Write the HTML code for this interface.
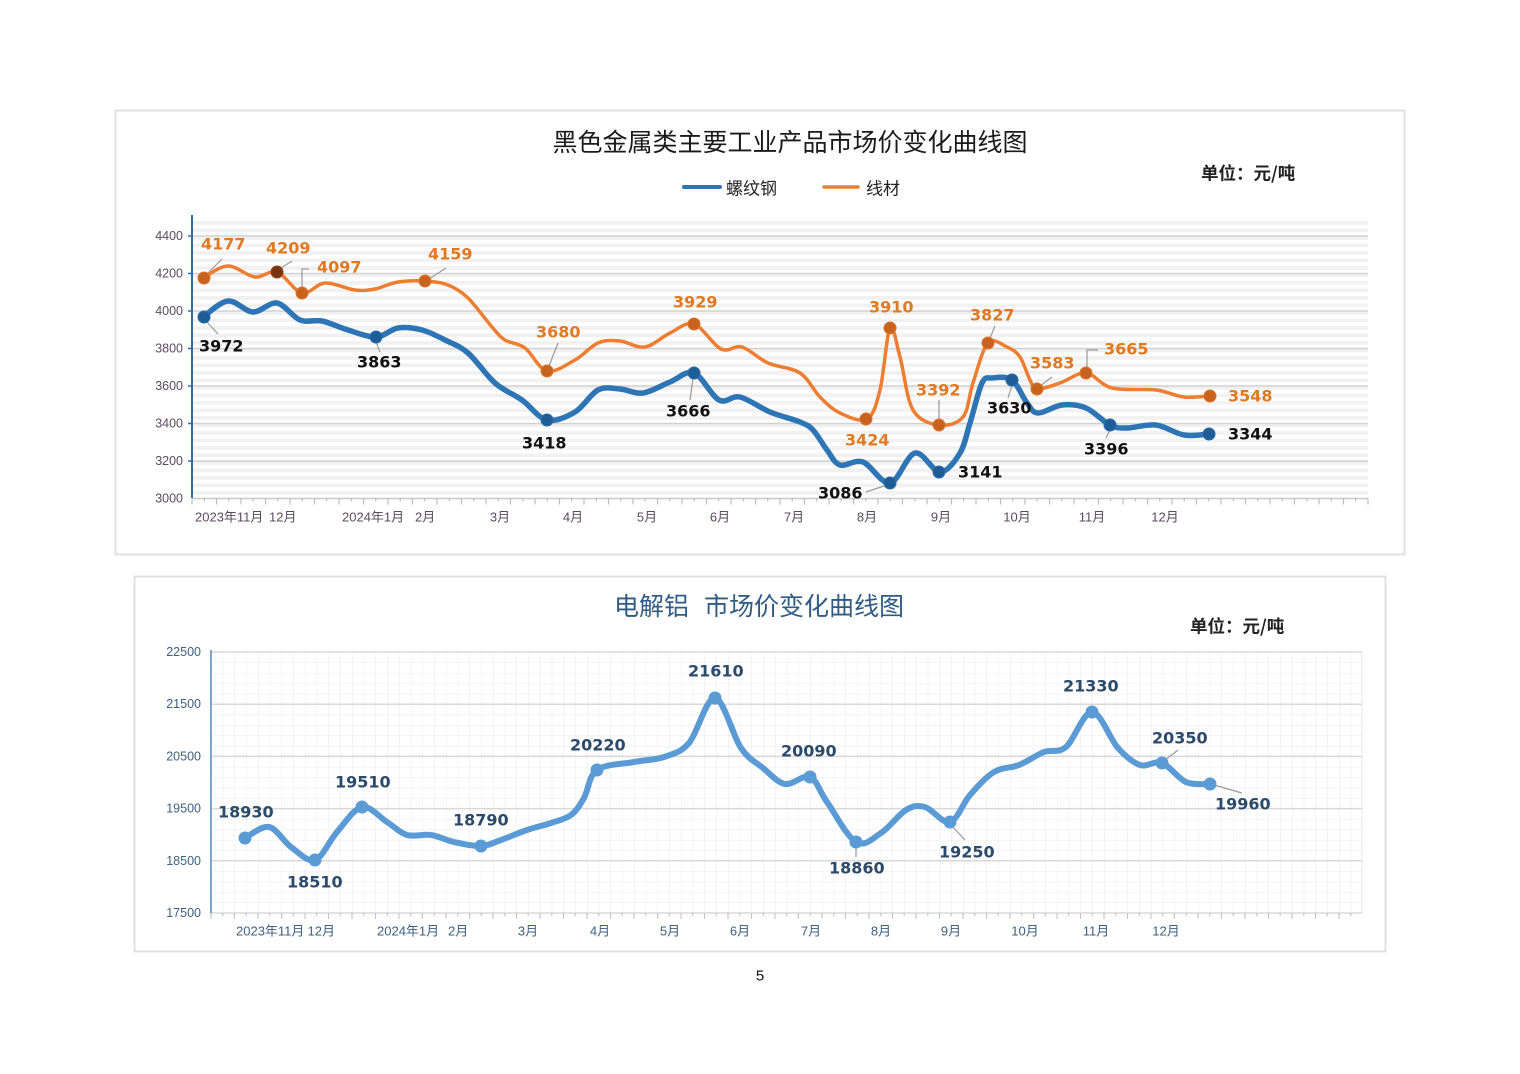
<!DOCTYPE html>
<html><head><meta charset="utf-8"><style>
html,body{margin:0;padding:0;background:#fff;}
svg{display:block;}
text{font-family:"Liberation Sans","Noto Sans CJK SC",sans-serif;}
text.cj{font-family:"Noto Sans CJK SC","WenQuanYi Zen Hei",sans-serif;}
.lb text{font-family:"DejaVu Sans","Liberation Sans",sans-serif;font-weight:bold;font-size:16px;}
</style></head><body>
<svg width="1520" height="1074" viewBox="0 0 1520 1074" xmlns="http://www.w3.org/2000/svg">
<defs>
<pattern id="ts" x="192" y="498.5" width="20" height="7.5" patternUnits="userSpaceOnUse">
<rect x="0" y="0" width="20" height="3.75" fill="#f1f1f1"/>
</pattern>
<pattern id="bg" x="211" y="913" width="11.75" height="10.44" patternUnits="userSpaceOnUse">
<line x1="0" y1="0" x2="11.75" y2="0" stroke="#e8e8e8" stroke-width="1"/>
<line x1="0" y1="0" x2="0" y2="10.44" stroke="#e8e8e8" stroke-width="1"/>
</pattern>
</defs>

<!-- ============ TOP CHART ============ -->
<rect x="115.5" y="110.5" width="1289" height="444" fill="#fff" stroke="#e0e0e0" stroke-width="2"/>
<text class="cj" x="790" y="141" font-size="25" fill="#1a1a1a" text-anchor="middle" dominant-baseline="central">黑色金属类主要工业产品市场价变化曲线图</text>
<line x1="684" y1="187" x2="720" y2="187" stroke="#2e75b6" stroke-width="4" stroke-linecap="round"/>
<text class="cj" x="726" y="187" font-size="17" fill="#222" dominant-baseline="central">螺纹钢</text>
<line x1="824" y1="187" x2="858" y2="187" stroke="#ed7d31" stroke-width="3.5" stroke-linecap="round"/>
<text class="cj" x="866" y="187" font-size="17" fill="#222" dominant-baseline="central">线材</text>
<text class="cj" x="1201" y="173" font-size="17.5" font-weight="bold" fill="#222" dominant-baseline="central">单位：元/吨</text>

<rect x="192" y="218" width="1176" height="281" fill="url(#ts)"/>
<g stroke="#d2d2d2" stroke-width="1.5">
<line x1="192" y1="236" x2="1368" y2="236"/>
<line x1="192" y1="273.5" x2="1368" y2="273.5"/>
<line x1="192" y1="311" x2="1368" y2="311"/>
<line x1="192" y1="348.5" x2="1368" y2="348.5"/>
<line x1="192" y1="386" x2="1368" y2="386"/>
<line x1="192" y1="423.5" x2="1368" y2="423.5"/>
<line x1="192" y1="461" x2="1368" y2="461"/>
</g>
<line x1="192" y1="498.5" x2="1368" y2="498.5" stroke="#c8c8c8" stroke-width="1.5"/>
<g id="tticks" stroke="#bdbdbd" stroke-width="1.2"></g>
<line x1="192" y1="215" x2="192" y2="498" stroke="#2e6da4" stroke-width="2"/>
<g stroke="#2e6da4" stroke-width="1.5">
<line x1="188" y1="236" x2="192" y2="236"/><line x1="188" y1="273.5" x2="192" y2="273.5"/>
<line x1="188" y1="311" x2="192" y2="311"/><line x1="188" y1="348.5" x2="192" y2="348.5"/>
<line x1="188" y1="386" x2="192" y2="386"/><line x1="188" y1="423.5" x2="192" y2="423.5"/>
<line x1="188" y1="461" x2="192" y2="461"/>
</g>
<g font-size="12.5" fill="#5b4a5e" text-anchor="end" dominant-baseline="central">
<text x="183" y="236">4400</text><text x="183" y="273.5">4200</text><text x="183" y="311">4000</text>
<text x="183" y="348.5">3800</text><text x="183" y="386">3600</text><text x="183" y="423.5">3400</text>
<text x="183" y="461">3200</text><text x="183" y="498.5">3000</text>
</g>
<g font-size="13" fill="#5b4a5e" dominant-baseline="central">
<text x="195" y="517">2023年11月</text><text x="269" y="517">12月</text>
<text x="342" y="517">2024年1月</text><text x="415" y="517">2月</text>
</g>
<g font-size="13" fill="#5b4a5e" text-anchor="middle" dominant-baseline="central">
<text x="500" y="517">3月</text><text x="573" y="517">4月</text><text x="647" y="517">5月</text>
<text x="720" y="517">6月</text><text x="794" y="517">7月</text><text x="867" y="517">8月</text>
<text x="941" y="517">9月</text><text x="1017" y="517">10月</text><text x="1092" y="517">11月</text>
<text x="1165" y="517">12月</text>
</g>

<!-- leaders top -->
<g stroke="#9a9a9a" stroke-width="1.2" fill="none">
<line x1="207" y1="274" x2="222" y2="259"/>
<line x1="281" y1="268" x2="292" y2="261"/>
<path d="M302 288 V269 H309"/>
<line x1="429" y1="279" x2="446" y2="268"/>
<line x1="549" y1="366" x2="558" y2="343"/>
<line x1="939" y1="420" x2="939" y2="400"/>
<line x1="990" y1="338" x2="995" y2="326"/>
<line x1="1040" y1="386" x2="1052" y2="377"/>
<path d="M1087 370 V350 H1098"/>
<line x1="207" y1="322" x2="218" y2="334"/>
<line x1="376" y1="342" x2="380" y2="352"/>
<line x1="693" y1="378" x2="690" y2="400"/>
<line x1="866" y1="492" x2="884" y2="486"/>
<line x1="1012" y1="385" x2="1008" y2="398"/>
<line x1="1110" y1="430" x2="1106" y2="438"/>
</g>

<polyline class="sm" points="203,278 228,266 255,277 277,272 302,293 325,283 355,290 375,289 398,282 425,281 448,285 468,298 492,327 505,340 525,348 547,371 575,360 598,343 620,341 645,347 670,333 694,324 721,349 742,347 768,363 800,373 820,397 840,413 867,419 880,390 890,328 900,357 913,410 939,425 963,417 973,383 988,343 1007,347 1020,357 1030,380 1037,389 1060,383 1086,373 1112,388 1156,390 1184,397 1210,396" fill="none" stroke="#ed7d31" stroke-width="3.5" stroke-linejoin="round" stroke-linecap="round"/>
<polyline class="sm" points="203,317 228,301 253,312 277,303 300,320 322,321 348,330 376,337 398,328 422,330 445,340 468,353 495,383 522,400 547,420 575,412 598,390 620,389 643,393 670,382 694,373 719,400 740,397 770,412 800,422 813,430 827,450 840,465 863,462 890,483 915,453 940,472 960,453 970,423 982,383 992,378 1012,380 1027,403 1038,413 1062,405 1086,408 1110,425 1127,428 1156,425 1184,435 1210,434" fill="none" stroke="#2e75b6" stroke-width="5.5" stroke-linejoin="round" stroke-linecap="round"/>

<g fill="#c9621c" stroke="#d9772e" stroke-width="1">
<circle cx="204" cy="278" r="6"/><circle cx="302" cy="293" r="6"/><circle cx="425" cy="281" r="6"/>
<circle cx="547" cy="371" r="6"/><circle cx="694" cy="324" r="6"/><circle cx="890" cy="328" r="6"/>
<circle cx="866" cy="419" r="6"/><circle cx="939" cy="425" r="6"/><circle cx="988" cy="343" r="6"/>
<circle cx="1037" cy="389" r="6"/><circle cx="1086" cy="373" r="6"/><circle cx="1210" cy="396" r="6"/>
</g>
<circle cx="277" cy="272" r="6" fill="#7a3510" stroke="#8e4517"/>
<g fill="#1f5d96" stroke="#2a6aa8" stroke-width="1">
<circle cx="204" cy="317" r="6"/><circle cx="376" cy="337" r="6"/><circle cx="547" cy="420" r="6"/>
<circle cx="694" cy="373" r="6"/><circle cx="890" cy="483" r="6"/><circle cx="939" cy="472" r="6"/>
<circle cx="1012" cy="380" r="6"/><circle cx="1110" cy="425" r="6"/><circle cx="1209" cy="434" r="6"/>
</g>

<g class="lb" fill="#e07a22" dominant-baseline="central">
<text x="201" y="244">4177</text><text x="266" y="248">4209</text><text x="317" y="267">4097</text>
<text x="428" y="254">4159</text><text x="536" y="332">3680</text><text x="673" y="302">3929</text>
<text x="869" y="307">3910</text><text x="845" y="440">3424</text><text x="916" y="390">3392</text>
<text x="970" y="315">3827</text><text x="1030" y="363">3583</text><text x="1104" y="349">3665</text>
<text x="1228" y="396">3548</text>
</g>
<g class="lb" fill="#111" dominant-baseline="central">
<text x="199" y="346">3972</text><text x="357" y="362">3863</text><text x="522" y="443">3418</text>
<text x="666" y="411">3666</text><text x="818" y="493">3086</text><text x="958" y="472">3141</text>
<text x="987" y="408">3630</text><text x="1084" y="449">3396</text><text x="1228" y="434">3344</text>
</g>

<!-- ============ BOTTOM CHART ============ -->
<rect x="134.5" y="576.5" width="1251" height="375" fill="#fff" stroke="#e0e0e0" stroke-width="2"/>
<text class="cj" x="614" y="605" font-size="25" fill="#2f5b85" dominant-baseline="central">电解铝</text>
<text class="cj" x="704" y="605" font-size="25" fill="#2f5b85" dominant-baseline="central">市场价变化曲线图</text>
<text class="cj" x="1190" y="626" font-size="17.5" font-weight="bold" fill="#222" dominant-baseline="central">单位：元/吨</text>

<rect x="211" y="652" width="1151" height="261" fill="url(#bg)"/>
<line x1="1362" y1="652" x2="1362" y2="913" stroke="#e4e4e4" stroke-width="1"/>
<g stroke="#d8d8d8" stroke-width="1.5">
<line x1="211" y1="652" x2="1362" y2="652"/>
<line x1="211" y1="704.2" x2="1362" y2="704.2"/>
<line x1="211" y1="756.4" x2="1362" y2="756.4"/>
<line x1="211" y1="808.6" x2="1362" y2="808.6"/>
<line x1="211" y1="860.8" x2="1362" y2="860.8"/>
<line x1="211" y1="913" x2="1362" y2="913"/>
</g>
<g id="bticks" stroke="#c4c4c4" stroke-width="1.2"></g>
<line x1="211" y1="650" x2="211" y2="913" stroke="#7aa6cf" stroke-width="2"/>
<g font-size="12.5" fill="#3d5f80" text-anchor="end" dominant-baseline="central">
<text x="201" y="652">22500</text><text x="201" y="704.2">21500</text><text x="201" y="756.4">20500</text>
<text x="201" y="808.6">19500</text><text x="201" y="860.8">18500</text><text x="201" y="913">17500</text>
</g>
<g font-size="13" fill="#3d5f80" dominant-baseline="central">
<text x="236" y="931">2023年11月</text><text x="335" y="931" text-anchor="end">12月</text>
<text x="377" y="931">2024年1月</text><text x="448" y="931">2月</text>
</g>
<g font-size="13" fill="#3d5f80" text-anchor="middle" dominant-baseline="central">
<text x="528" y="931">3月</text><text x="600" y="931">4月</text><text x="670" y="931">5月</text>
<text x="740" y="931">6月</text><text x="811" y="931">7月</text><text x="881" y="931">8月</text>
<text x="951" y="931">9月</text><text x="1025" y="931">10月</text><text x="1096" y="931">11月</text>
<text x="1166" y="931">12月</text>
</g>

<g stroke="#9a9a9a" stroke-width="1.2" fill="none">
<line x1="856" y1="846" x2="856" y2="857"/>
<line x1="952" y1="826" x2="965" y2="840"/>
<line x1="1165" y1="760" x2="1178" y2="750"/>
<line x1="1214" y1="785" x2="1242" y2="793"/>
</g>

<polyline class="sm" points="245,838 269,827 291,847 315,860 337,832 362,807 387,822 407,835 431,835 454,842 481,846 501,840 527,830 551,823 571,815 584,798 597,770 634,762 664,757 689,743 715,698 741,748 763,768 785,784 810,777 827,802 856,842 881,833 906,810 925,807 950,822 970,795 994,772 1019,765 1044,752 1066,747 1092,712 1118,748 1140,765 1162,763 1186,782 1210,784" fill="none" stroke="#5b9bd5" stroke-width="6" stroke-linejoin="round" stroke-linecap="round"/>
<g fill="#5b9bd5">
<circle cx="245" cy="838" r="6.5"/><circle cx="315" cy="860" r="6.5"/><circle cx="362" cy="807" r="6.5"/>
<circle cx="481" cy="846" r="6.5"/><circle cx="597" cy="770" r="6.5"/><circle cx="715" cy="698" r="6.5"/>
<circle cx="810" cy="777" r="6.5"/><circle cx="856" cy="842" r="6.5"/><circle cx="950" cy="822" r="6.5"/>
<circle cx="1092" cy="712" r="6.5"/><circle cx="1162" cy="763" r="6.5"/><circle cx="1210" cy="784" r="6.5"/>
</g>
<g class="lb" fill="#2c4a6a" dominant-baseline="central">
<text x="218" y="812">18930</text><text x="287" y="882">18510</text><text x="335" y="782">19510</text>
<text x="453" y="820">18790</text><text x="570" y="745">20220</text><text x="688" y="671">21610</text>
<text x="781" y="751">20090</text><text x="829" y="868">18860</text><text x="939" y="852">19250</text>
<text x="1063" y="686">21330</text><text x="1152" y="738">20350</text><text x="1215" y="804">19960</text>
</g>

<text x="760" y="976" font-size="15" fill="#111" text-anchor="middle" dominant-baseline="central">5</text>
</svg>
<script>
(function(){
var NS="http://www.w3.org/2000/svg";
function ticks(id,x0,x1,step,y,h1,h2){
  var g=document.getElementById(id),i=0;
  for(var x=x0;x<=x1+0.1;x+=step){
    var l=document.createElementNS(NS,"line");
    l.setAttribute("x1",x);l.setAttribute("x2",x);
    l.setAttribute("y1",y);l.setAttribute("y2",y+(i%2?h2:h1));
    g.appendChild(l);i++;
  }
}
ticks("tticks",192,1368,12.25,498.5,6,3);
ticks("bticks",211,1362,11.75,913,6,3);
var pl=document.querySelectorAll("polyline.sm");
for(var k=0;k<pl.length;k++){
  var p=pl[k],raw=p.getAttribute("points").trim().split(/\s+/),pts=[];
  for(var i=0;i<raw.length;i++){var a=raw[i].split(",");pts.push([+a[0],+a[1]]);}
  var n=pts.length,d="M"+pts[0][0]+" "+pts[0][1];
  for(var i=0;i<n-1;i++){
    var p0=pts[Math.max(i-1,0)],p1=pts[i],p2=pts[i+1],p3=pts[Math.min(i+2,n-1)];
    var c1x=p1[0]+(p2[0]-p0[0])/6,c1y=p1[1]+(p2[1]-p0[1])/6;
    var c2x=p2[0]-(p3[0]-p1[0])/6,c2y=p2[1]-(p3[1]-p1[1])/6;
    d+=" C"+c1x.toFixed(2)+" "+c1y.toFixed(2)+" "+c2x.toFixed(2)+" "+c2y.toFixed(2)+" "+p2[0]+" "+p2[1];
  }
  var path=document.createElementNS(NS,"path");
  path.setAttribute("d",d);
  ["fill","stroke","stroke-width","stroke-linejoin","stroke-linecap"].forEach(function(at){path.setAttribute(at,p.getAttribute(at));});
  p.parentNode.replaceChild(path,p);
}
})();
</script>
</body></html>
